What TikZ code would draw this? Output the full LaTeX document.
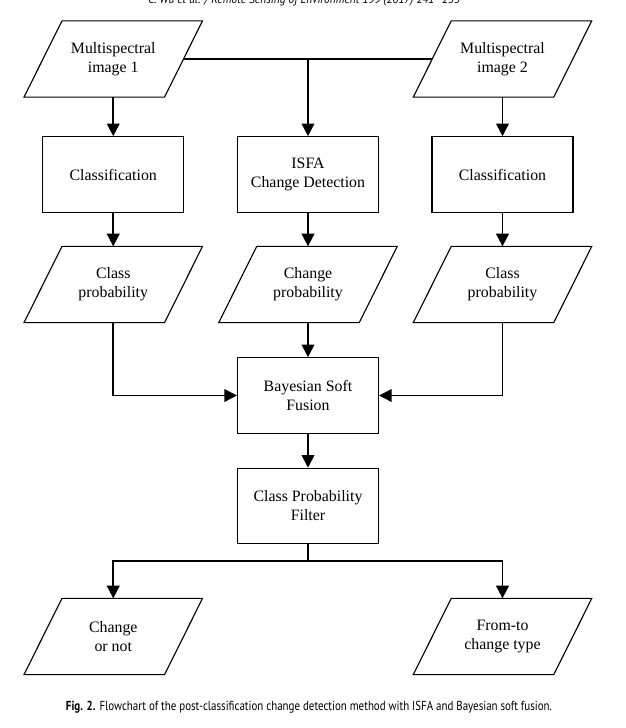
\documentclass[tikz,border=0pt]{standalone}
\usepackage{fontspec}
\setmainfont{Liberation Serif}
\newfontfamily\capfont{PT Sans}
\usetikzlibrary{arrows.meta,calc}
\newcommand\flowfont{\fontsize{11.9}{14.3}\selectfont}
% slanted frame around a data node: top edge shifted right, bottom edge shifted left
\newcommand\slantframe[1]{%
  \draw[frameline] ($(#1.south west)+(-19,0)$) -- ($(#1.south east)+(-19,0)$)
    -- ($(#1.north east)+(19,0)$) -- ($(#1.north west)+(19,0)$) -- cycle;}
\begin{document}
\begin{tikzpicture}[x=0.75pt,y=-0.75pt,
  frameline/.style={line width=0.85pt, line join=miter},
  procbox/.style={draw, frameline, minimum width=105.75pt, minimum height=56.6pt,
    inner sep=0pt, align=center, font=\flowfont},
  datanode/.style={minimum width=105pt, minimum height=56.8pt, inner sep=0pt,
    align=center, font=\flowfont},
  link/.style={line width=1.35pt},
  flow/.style={link, -{Triangle[length=9.5pt,width=9.5pt]}}]
\useasboundingbox (0,0) rectangle (625,728);

% running head
\node[anchor=base, font=\capfont\itshape\fontsize{9}{10}\selectfont] (hdr) at (304,3.5)
  {\resizebox{234pt}{\height}{C. Wu et al. / Remote Sensing of Environment 199 (2017) 241--255}};

% inputs
\node[datanode] (ms1) at (113.25,59) {Multispectral\\image 1};
\node[datanode] (ms2) at (502.5,59) {Multispectral\\image 2};
\slantframe{ms1}
\slantframe{ms2}

% processing
\node[procbox] (cls1) at (113.25,174.5) {Classification};
\node[procbox] (isfa) at (308,174.5) {ISFA\\Change Detection};
\node[procbox] (cls2) at (502.5,174.5) {Classification};

% intermediate products
\node[datanode] (cp1) at (113.25,284.5) {Class\\probability};
\node[datanode] (chp) at (308,284.5) {Change\\probability};
\node[datanode] (cp2) at (502.5,284.5) {Class\\probability};
\slantframe{cp1}
\slantframe{chp}
\slantframe{cp2}

% fusion and filtering
\node[procbox] (bsf) at (308,395.5) {Bayesian Soft\\Fusion};
\node[procbox] (cpf) at (308,506) {Class Probability\\Filter};

% outputs
\node[datanode] (out1) at (113.25,636.5) {Change\\or not};
\node[datanode] (out2) at (502.5,636.5) {From-to\\change type};
\slantframe{out1}
\slantframe{out2}

% connectors
\draw[link] (ms1.east) -- (ms2.west);
\draw[flow] (ms1.east -| isfa.north) -- (isfa.north);
\draw[flow] (ms1.south) -- (cls1.north);
\draw[flow] (ms2.south) -- (cls2.north);
\draw[flow] (cls1.south) -- (cp1.north);
\draw[flow] (isfa.south) -- (chp.north);
\draw[flow] (cls2.south) -- (cp2.north);
\draw[flow] (cp1.south) |- (bsf.west);
\draw[flow] (cp2.south) |- (bsf.east);
\draw[flow] (chp.south) -- (bsf.north);
\draw[flow] (bsf.south) -- (cpf.north);
\coordinate (split) at (308,561);
\draw[link] (cpf.south) -- (split);
\draw[flow] (split) -| (out1.north);
\draw[flow] (split) -| (out2.north);

% caption
\node[anchor=base] (cap) at (309,710)
  {\resizebox{364.5pt}{\height}{\capfont\fontsize{9.8}{11}\selectfont\textbf{Fig. 2.} Flowchart of the post-classification change detection method with ISFA and Bayesian soft fusion.}};
\end{tikzpicture}
\end{document}
